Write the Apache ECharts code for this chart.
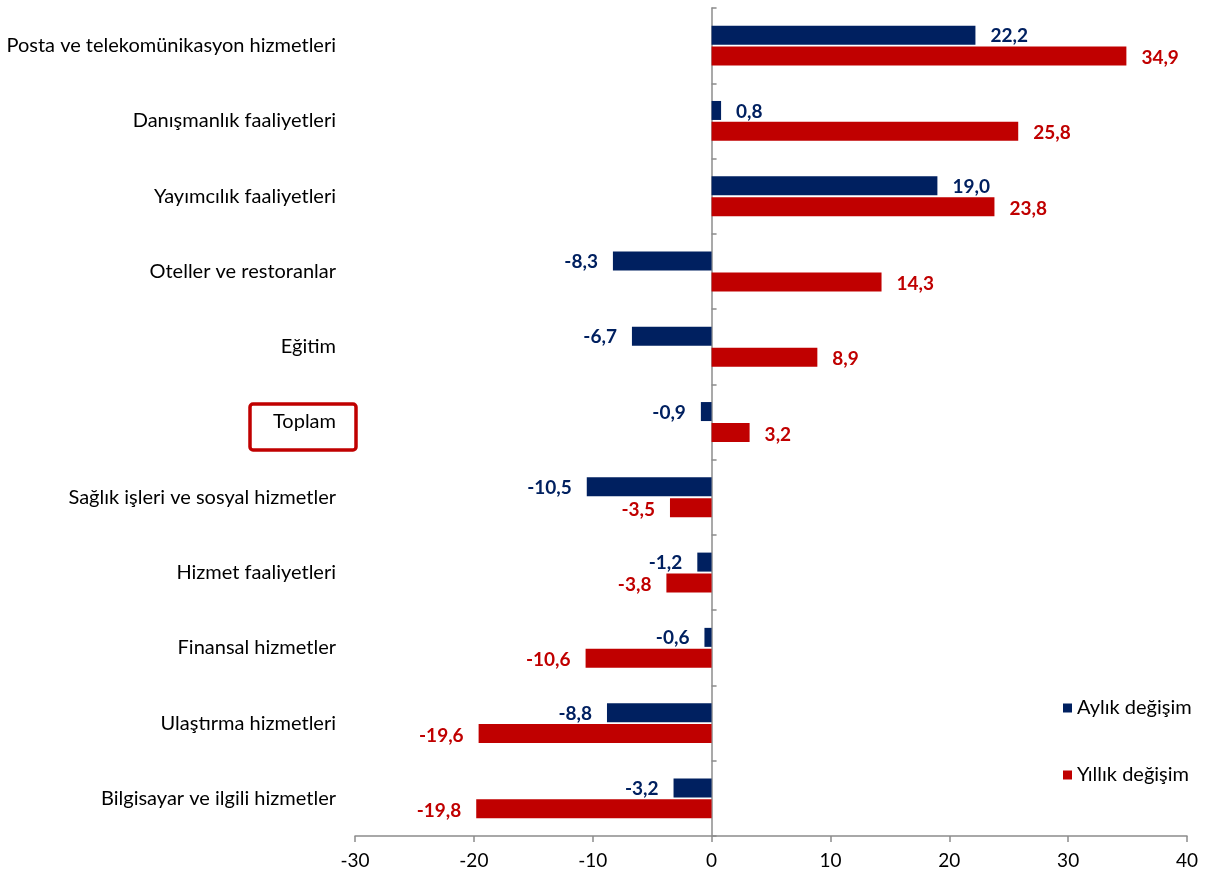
<!DOCTYPE html>
<html>
<head>
<meta charset="utf-8">
<script src="https://cdn.jsdelivr.net/npm/echarts@6/dist/echarts.min.js"></script>
<style>
html, body { margin: 0; padding: 0; background: #fff; }
#main { width: 1210px; height: 876px; }
</style>
</head>
<body>
<div id="main"></div>
<script>
const categories = [
	'Posta ve telekomünikasyon hizmetleri',
	'Danışmanlık faaliyetleri',
	'Yayımcılık faaliyetleri',
	'Oteller ve restoranlar',
	'Eğitim',
	'Toplam',
	'Sağlık işleri ve sosyal hizmetler',
	'Hizmet faaliyetleri',
	'Finansal hizmetler',
	'Ulaştırma hizmetleri',
	'Bilgisayar ve ilgili hizmetler'
]
const monthly = [22.2, 0.8, 19.0, -8.3, -6.7, -0.9, -10.5, -1.2, -0.6, -8.8, -3.2]
const yearly = [34.9, 25.8, 23.8, 14.3, 8.9, 3.2, -3.5, -3.8, -10.6, -19.6, -19.8]
const xTicks = { min: -30, max: 40, interval: 10 }

const BLUE = '#002060'
const RED = '#C00000'
const AXIS = '#8c8c8c'
const FONT = 'Lato'

const fmt = v => v.toFixed(1).replace('.', ',')

// label on the outer end of each bar
const withLabels = (arr, dy) =>
	arr.map(v => ({
		value: v,
		label: { position: v < 0 ? 'left' : 'right', offset: [0, dy] }
	}))

const myChart = echarts.init(document.getElementById('main'))

myChart.setOption({
	animation: false,
	textStyle: { fontFamily: FONT },
	grid: { left: 355, right: 23, top: 8, bottom: 40 },
	legend: {
		orient: 'vertical',
		left: 1063,
		top: 696,
		padding: 0,
		itemGap: 43,
		itemWidth: 9,
		itemHeight: 9,
		icon: 'rect',
		textStyle: { fontSize: 20, color: '#000', fontFamily: FONT, lineHeight: 24 },
		data: ['Aylık değişim', 'Yıllık değişim']
	},
	xAxis: {
		type: 'value',
		min: xTicks.min,
		max: xTicks.max,
		interval: xTicks.interval,
		splitLine: { show: false },
		axisLine: { show: true, onZero: false, lineStyle: { color: AXIS, width: 1.5 } },
		axisTick: { show: true, length: 6, lineStyle: { color: AXIS, width: 1.5 } },
		axisLabel: { color: '#000', fontSize: 19, margin: 15, fontFamily: FONT }
	},
	yAxis: [
		{
			type: 'category',
			inverse: true,
			data: categories,
			axisLine: { show: false, onZero: false },
			axisTick: { show: false },
			axisLabel: { color: '#000', fontSize: 20, margin: 19, fontFamily: FONT }
		},
		{
			type: 'category',
			inverse: true,
			data: categories,
			axisLine: { show: true, onZero: true, lineStyle: { color: AXIS, width: 1.5 } },
			axisTick: { show: true, inside: false, length: 5, lineStyle: { color: AXIS, width: 1.5 } },
			axisLabel: { show: false }
		}
	],
	series: [
		{
			name: 'Aylık değişim',
			type: 'bar',
			yAxisIndex: 0,
			barWidth: 19,
			barGap: '10%',
			itemStyle: { color: BLUE },
			label: {
				show: true,
				distance: 15,
				color: BLUE,
				fontWeight: 'bold',
				fontSize: 19,
				fontFamily: FONT,
				formatter: p => fmt(p.value)
			},
			data: withLabels(monthly, 1)
		},
		{
			name: 'Yıllık değişim',
			type: 'bar',
			yAxisIndex: 0,
			barWidth: 19,
			barGap: '10%',
			itemStyle: { color: RED },
			label: {
				show: true,
				distance: 15,
				color: RED,
				fontWeight: 'bold',
				fontSize: 19,
				fontFamily: FONT,
				formatter: p => fmt(p.value)
			},
			data: withLabels(yearly, 2)
		}
	]
})

// red frame round the "Toplam" label
const cy = myChart.convertToPixel({ yAxisIndex: 0 }, 'Toplam')
myChart.setOption({
	graphic: [
		{
			type: 'rect',
			shape: { x: 250, y: cy - 18, width: 106, height: 46, r: 3 },
			style: { fill: 'none', stroke: RED, lineWidth: 3.5 },
			z: 10
		}
	]
})
</script>
</body>
</html>
